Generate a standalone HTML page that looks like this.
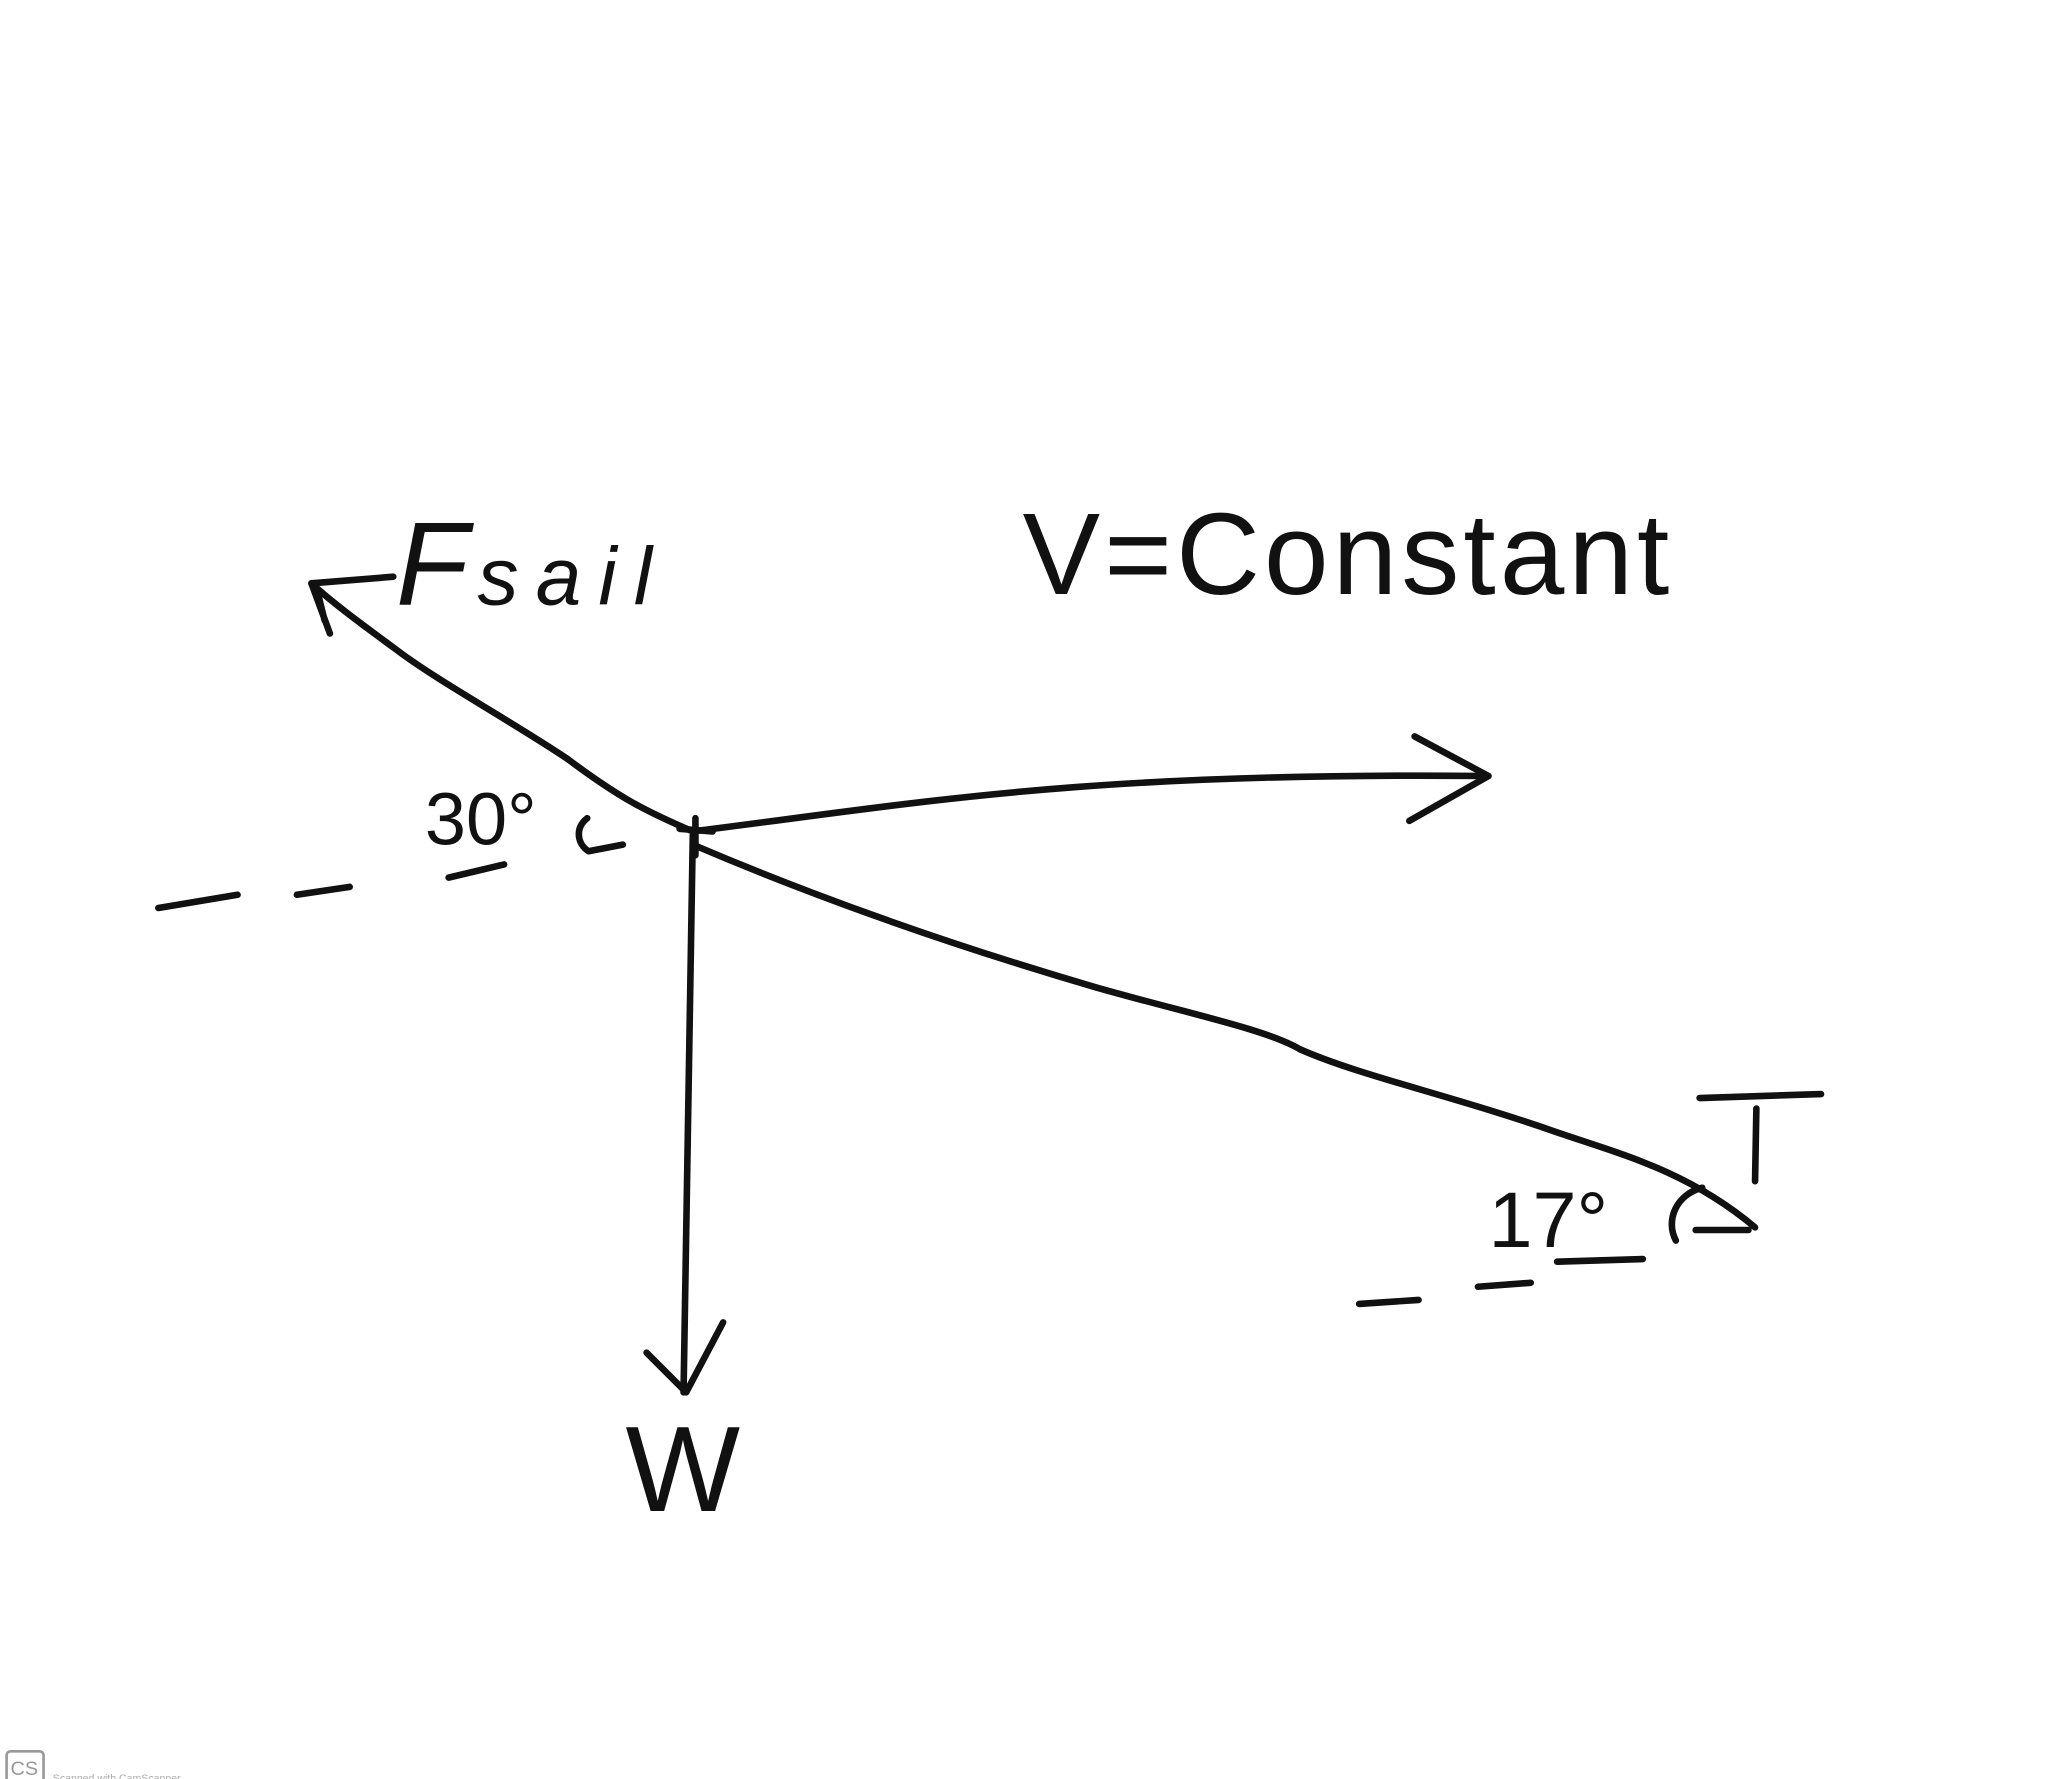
<!DOCTYPE html>
<html><head><meta charset="utf-8"><style>
html,body{margin:0;padding:0;background:#fff;}
svg{display:block;}
text{font-family:"Liberation Sans",sans-serif;fill:#111;}
</style></head><body>
<svg width="2048" height="1779" viewBox="0 0 1552 1348" preserveAspectRatio="none" xmlns="http://www.w3.org/2000/svg">
<rect width="1552" height="1348" fill="#fff"/>
<g fill="none" stroke="#111" stroke-width="5" stroke-linecap="round" stroke-linejoin="round">
<path d="M525,630 C490,615 470,605 430,575 C390,548 330,515 300,492 C270,470 250,455 236,442"/>
<path d="M236,442 L298,437 M236,442 L250,480 M240,446 L246,470"/>
<path d="M525,630 C700,608 820,585 1125,588"/>
<path d="M1072,558 L1128,588 L1068,622"/>
<path d="M525,633 L518,1055"/>
<path d="M490,1025 L520,1055 L548,1002"/>
<path d="M525,640 C600,672 700,710 830,748 C900,768 960,780 985,795 C1030,815 1100,830 1180,858 C1230,875 1280,888 1330,930"/>
<path d="M1330,895 L1331,840 M1288,832 L1380,829"/>
<path d="M1285,932 L1325,932 M1270,940 C1262,925 1270,905 1290,900"/>
<path d="M1030,988 L1075,985 M1120,975 L1160,972 M1180,956 L1245,954"/>
<path d="M120,688 L180,678 M225,678 L265,672 M340,665 L382,655"/>
<path d="M445,620 C435,628 438,640 446,645 L472,640"/>
<path d="M515,628 L540,630 M527,620 L527,648"/>
</g>
<text x="300" y="458" font-size="90" font-style="italic" textLength="200">F<tspan font-size="62" letter-spacing="6">sail</tspan></text>
<text x="775" y="450" font-size="88" textLength="490">V=Constant</text>
<text x="322" y="640" font-size="56">30°</text>
<text x="1128" y="945" font-size="60">17°</text>
<text x="474" y="1145" font-size="92">W</text>
<rect x="5" y="1327" width="28" height="24" rx="3" fill="none" stroke="#999" stroke-width="2"/>
<text x="8" y="1345" font-size="15" style="fill:#999">CS</text>
<text x="40" y="1350" font-size="8" style="fill:#aaa">Scanned with CamScanner</text>
</svg>
</body></html>
